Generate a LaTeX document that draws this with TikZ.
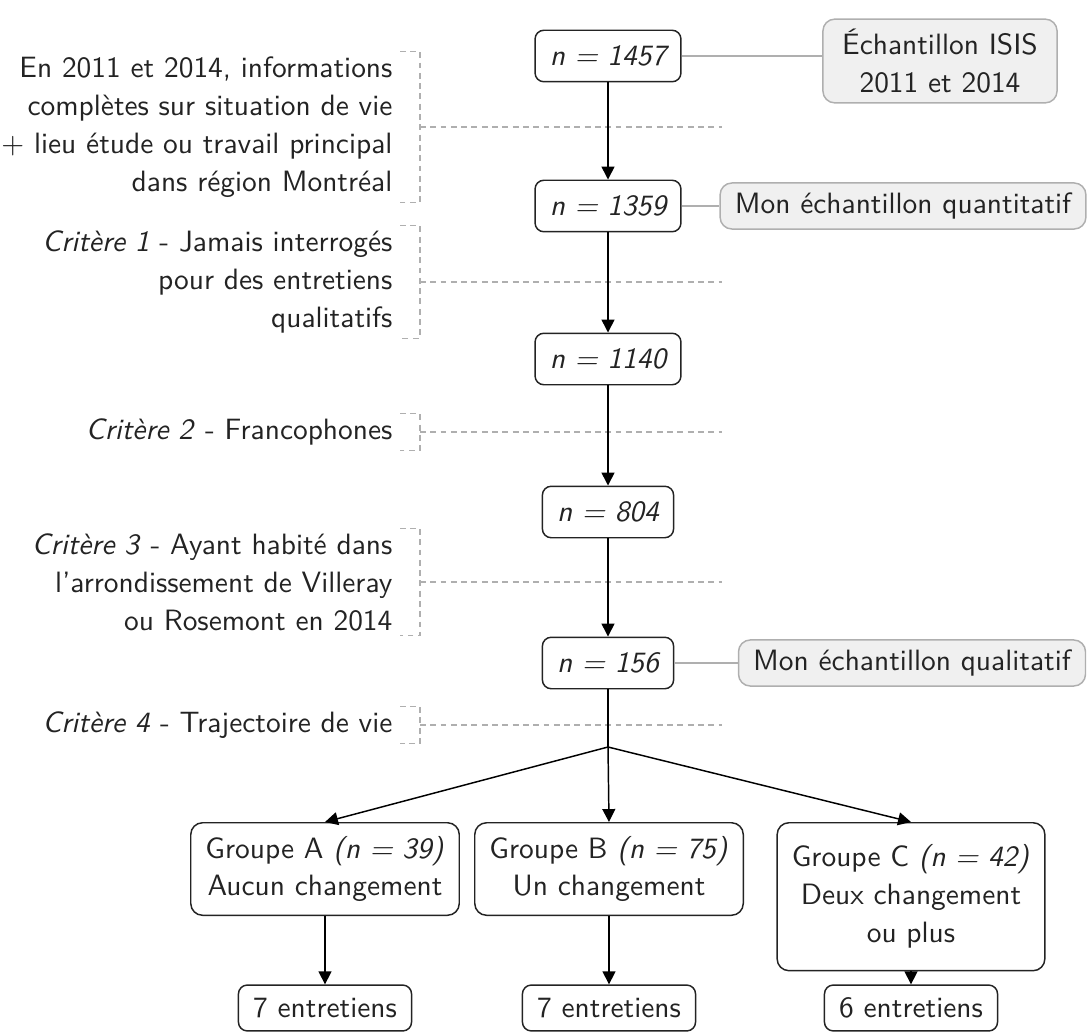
\documentclass[tikz,border=0pt]{standalone}
\usepackage{tikz}
\usetikzlibrary{arrows.meta, positioning, calc}
\renewcommand{\familydefault}{\sfdefault}
\definecolor{boxgray}{RGB}{240,240,240}
\definecolor{rulegray}{RGB}{175,175,175}
\definecolor{inkgray}{RGB}{35,35,35}

\begin{document}
\begin{tikzpicture}[x=0.34pt, y=-0.34pt,
  font=\fontsize{10}{12.9}\selectfont, text=inkgray,
  countbox/.style={draw=inkgray, line width=0.5pt, rounded corners=3pt, inner xsep=5pt, minimum height=17.5pt, font=\fontsize{10}{12.9}\selectfont\itshape},
  samplebox/.style={draw=rulegray, line width=0.5pt, fill=boxgray, rounded corners=4pt, inner xsep=5pt, minimum height=15.6pt, align=center},
  groupbox/.style={draw=inkgray, line width=0.5pt, rounded corners=4pt, inner xsep=5pt, inner ysep=4.5pt, align=center, anchor=north},
  talkbox/.style={draw=inkgray, line width=0.5pt, rounded corners=3pt, inner xsep=5pt, minimum height=15.6pt},
  critlabel/.style={anchor=east, align=right, inner xsep=0pt, inner ysep=1.5pt},
  flow/.style={draw=black, line width=0.5pt, -{Triangle[length=4.4pt, width=4.4pt]}},
  link/.style={draw=rulegray, line width=0.5pt},
  guide/.style={draw=rulegray, line width=0.4pt, dash pattern=on 2pt off 1.5pt}]
  \useasboundingbox (0,0) rectangle (1089,1035);

  % Main column
  \node[countbox] (n1457) at (608,56) {n = 1457};
  \node[countbox] (n1359) at (608,206) {n = 1359};
  \node[countbox] (n1140) at (608,359) {n = 1140};
  \node[countbox] (n804) at (608,512) {n = 804};
  \node[countbox] (n156) at (608,663) {n = 156};

  % Samples
  \node[samplebox, minimum width=79.6pt, minimum height=27.9pt] (isis) at (940,61) {Échantillon ISIS\\2011 et 2014};
  \node[samplebox] (quanti) at (903,206) {Mon échantillon quantitatif};
  \node[samplebox] (quali) at (912,663) {Mon échantillon qualitatif};

  % Criteria
  \node[critlabel] (c0) at (393,127) {En 2011 et 2014, informations\\complètes sur situation de vie\\+ lieu étude ou travail principal\\dans région Montréal};
  \node[critlabel] (c1) at (393,282) {\textit{Critère 1} - Jamais interrogés\\pour des entretiens\\qualitatifs};
  \node[critlabel] (c2) at (393,432) {\textit{Critère 2} - Francophones};
  \node[critlabel] (c3) at (393,582) {\textit{Critère 3} - Ayant habité dans\\l'arrondissement de Villeray\\ou Rosemont en 2014};
  \node[critlabel] (c4) at (393,725) {\textit{Critère 4} - Trajectoire de vie};

  % Groups
  \coordinate (split) at (608,747);
  \node[groupbox] (grpA) at (325,822) {Groupe A \textit{(n = 39)}\\Aucun changement};
  \node[groupbox] (grpB) at (609,822) {Groupe B \textit{(n = 75)}\\Un changement};
  \node[groupbox, minimum height=50.3pt] (grpC) at (911,822) {Groupe C \textit{(n = 42)}\\Deux changement\\ou plus};

  % Interviews
  \coordinate (talkrow) at (0,1008);
  \node[talkbox] (talkA) at (grpA |- talkrow) {7 entretiens};
  \node[talkbox] (talkB) at (grpB |- talkrow) {7 entretiens};
  \node[talkbox] (talkC) at (grpC |- talkrow) {6 entretiens};

  % Brackets and guides
  \coordinate (guideend) at (722,0);
  \foreach \c in {c0,c1,c2,c3,c4}{
    \draw[guide] ($(\c.north east)+(7,0)$) -| ($(\c.south east)+(27,0)$) -- ($(\c.south east)+(7,0)$);
    \draw[guide] ($(\c.east)+(27,0)$) -- (\c.east -| guideend);
  }

  % Links
  \draw[link] (n1457.east) -- (n1457.east -| isis.west);
  \draw[link] (n1359) -- (quanti);
  \draw[link] (n156) -- (quali);

  % Flow
  \draw[flow] (n1457) -- (n1359);
  \draw[flow] (n1359) -- (n1140);
  \draw[flow] (n1140) -- (n804);
  \draw[flow] (n804) -- (n156);
  \draw[line width=0.5pt] (n156) -- (split);
  \draw[flow] (split) -- (grpA.north);
  \draw[flow] (split) -- (grpB.north);
  \draw[flow] (split) -- (grpC.north);
  \draw[flow] (grpA) -- (talkA);
  \draw[flow] (grpB) -- (talkB);
  \draw[flow] (grpC) -- (talkC);
\end{tikzpicture}
\end{document}
